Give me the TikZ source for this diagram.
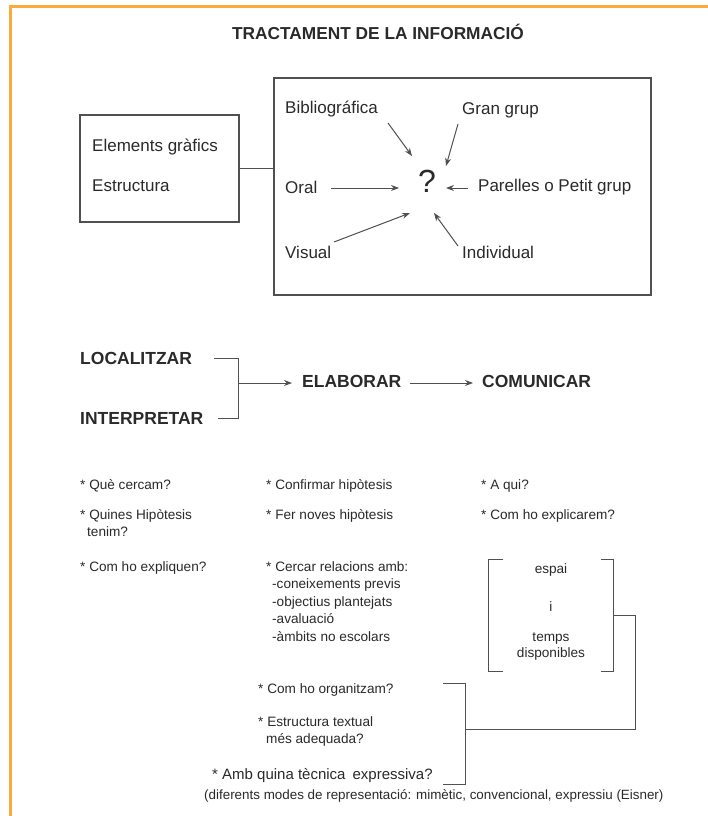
\documentclass[tikz,border=0pt]{standalone}
\usepackage{fontspec}
\setmainfont{Liberation Sans}
\usetikzlibrary{arrows.meta}
\definecolor{frameor}{HTML}{FBAA3C}
\definecolor{ink}{HTML}{2A2A2A}
\definecolor{lin}{HTML}{505050}
\begin{document}
\begin{tikzpicture}[x=1pt,y=-1pt,
  boxtxt/.style={font=\fontsize{17}{19}\selectfont, text=ink, inner sep=0pt, anchor=west},
  head/.style={font=\bfseries\fontsize{17.5}{19}\selectfont, text=ink, inner sep=0pt, anchor=west},
  bul/.style={font=\fontsize{13.6}{17.6}\selectfont, text=ink, inner sep=0pt, anchor=north west, align=left},
  frame/.style={draw=lin, line width=1.2pt},
  conn/.style={draw=lin, line width=1pt},
  arr/.style={draw=lin, line width=1pt, -{Stealth[length=8pt,width=6pt]}}
]
\useasboundingbox (0,0) rectangle (708,816);
\fill[white] (0,0) rectangle (708,816);
\draw[frameor, line width=3pt] (10,816) -- (10,7) -- (708,7);

% title
\node[font=\bfseries\fontsize{17.3}{19}\selectfont, text=ink, inner sep=0pt] (title) at (378,32) {TRACTAMENT DE LA INFORMACIÓ};

% left box
\node[frame, minimum width=159pt, minimum height=107pt, inner sep=0pt] (lbox) at (159.5,168.5) {};
\node[boxtxt] (elem) at (92,147) {Elements gràfics};
\node[boxtxt] (estr) at (92,186) {Estructura};

% big box
\node[frame, minimum width=377pt, minimum height=217pt, inner sep=0pt] (bbox) at (462.5,186.5) {};
\draw[conn] (lbox.east) -- (bbox.west |- lbox.east);

\node[font=\fontsize{32}{34}\selectfont, text=ink, inner sep=0pt] (q) at (427,181) {?};
\node[boxtxt] (bib) at (285,109) {Bibliográfica};
\node[boxtxt] (gran) at (462,110) {Gran grup};
\node[boxtxt] (oral) at (285,187) {Oral};
\node[boxtxt] (par) at (478,187) {Parelles o Petit grup};
\node[boxtxt] (vis) at (285,252) {Visual};
\node[boxtxt] (ind) at (462,252) {Individual};

\coordinate (bibA) at (388,123);
\coordinate (bibB) at (412,156);
\coordinate (granA) at (458,124);
\coordinate (granB) at (446,166);
\coordinate (oralA) at (331,188);
\coordinate (oralB) at (399,188);
\coordinate (parA) at (468,188);
\coordinate (parB) at (446,188);
\coordinate (visA) at (334,242);
\coordinate (visB) at (410,213);
\coordinate (indA) at (458,246);
\coordinate (indB) at (434,213);
\draw[arr] (bibA) -- (bibB);
\draw[arr] (granA) -- (granB);
\draw[arr] (oralA) -- (oralB);
\draw[arr] (parA) -- (parB);
\draw[arr] (visA) -- (visB);
\draw[arr] (indA) -- (indB);

% middle flow
\node[head] (loc) at (80,358) {LOCALITZAR};
\node[head] (int) at (80,418) {INTERPRETAR};
\node[head] (ela) at (302,381) {ELABORAR};
\node[head] (com) at (482,381) {COMUNICAR};
\coordinate (locE) at (214,358);
\coordinate (intE) at (218,418);
\coordinate (brk) at (238,383);
\draw[conn] (locE) -- (brk |- locE) -- (brk |- intE) -- (intE);
\draw[arr] (brk) -- ([xshift=-10pt]ela.west |- brk);
\draw[arr] ([xshift=8pt]ela.east |- brk) -- ([xshift=-9pt]com.west |- brk);

% column 1
\node[bul] (c1a) at (80,479) {* Què cercam?};
\node[bul] (c1b) at (80,509) {* Quines Hipòtesis\\\hspace*{7pt}tenim?};
\node[bul] (c1c) at (80,561) {* Com ho expliquen?};

% column 2
\node[bul] (c2a) at (266,479) {* Confirmar hipòtesis};
\node[bul] (c2b) at (266,509) {* Fer noves hipòtesis};
\node[bul] (c2c) at (266,561) {* Cercar relacions amb:\\\hspace*{6pt}-coneixements previs\\\hspace*{6pt}-objectius plantejats\\\hspace*{6pt}-avaluació\\\hspace*{6pt}-àmbits no escolars};

% column 3
\node[bul] (c3a) at (481,479) {* A qui?};
\node[bul] (c3b) at (481,509) {* Com ho explicarem?};

% espai i temps bracket
\node[bul, anchor=center, align=center] (esp) at (551,570) {espai};
\node[bul, anchor=center] (ii) at (551,607) {i};
\node[bul, anchor=north, align=center, font=\fontsize{13.6}{16.5}\selectfont] (tem) at (551,632) {temps\\disponibles};
\coordinate (bl1) at (488,559);
\coordinate (bl2) at (488,671);
\coordinate (br1) at (613,559);
\coordinate (br2) at (613,671);
\coordinate (brm) at (613,615);
\draw[conn] ([xshift=15pt]bl1) -- (bl1) -- (bl2) -- ([xshift=15pt]bl2);
\draw[conn] ([xshift=-12pt]br1) -- (br1) -- (br2) -- ([xshift=-12pt]br2);

% bottom bracket
\node[bul] (org) at (258,683) {* Com ho organitzam?};
\node[bul] (etx) at (258,716) {* Estructura textual\\\hspace*{8pt}més adequada?};
\node[bul, font=\fontsize{15}{17}\selectfont] (amb) at (212,768) {* Amb quina tècnica\hspace{7pt}expressiva?};
\node[bul, font=\fontsize{13.4}{17}\selectfont] (dif) at (204,789) {(diferents modes de representació: mimètic, convencional, expressiu (Eisner)};
\coordinate (b1) at (465,683);
\coordinate (b2) at (465,784);
\coordinate (bm) at (465,729);
\coordinate (rr) at (635,729);
\draw[conn] ([xshift=-22pt]b1) -- (b1) -- (b2) -- ([xshift=-22pt]b2);
\draw[conn] (brm) -- (rr |- brm) -- (rr) -- (bm);
\end{tikzpicture}
\end{document}
